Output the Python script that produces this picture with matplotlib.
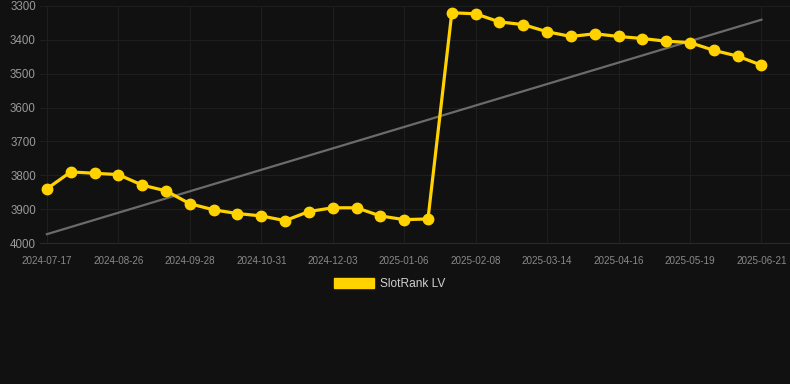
import numpy as np
import matplotlib
matplotlib.use("Agg")
import matplotlib.pyplot as plt
from matplotlib.patches import Patch

plt.rcParams['font.family'] = ['Liberation Sans', 'DejaVu Sans']

tick_labels = ["2024-07-17", "2024-08-26", "2024-09-28", "2024-10-31", "2024-12-03",
               "2025-01-06", "2025-02-08", "2025-03-14", "2025-04-16", "2025-05-19",
               "2025-06-21"]
ranks = [3840, 3790, 3794, 3798, 3829, 3846, 3884, 3902, 3913, 3920, 3934, 3907,
         3896, 3896, 3920, 3931, 3929, 3320, 3323, 3347, 3355, 3376, 3390, 3382,
         3390, 3396, 3404, 3408, 3431, 3448, 3475]
series_name = "SlotRank LV"
y_ticks = [3300, 3400, 3500, 3600, 3700, 3800, 3900, 4000]

BG = "#111111"
GRID = "#1e1e1e"
YELLOW = "#FFD200"

fig = plt.figure(figsize=(7.9, 3.84), dpi=100, facecolor=BG)
W, H = 790, 384
ax = fig.add_axes([40 / W, 1 - 243 / H, 750 / W, 237 / H], facecolor=BG)

x = np.arange(len(ranks))
coef = np.polyfit(x, ranks, 1)
ax.plot(x, np.polyval(coef, x), color="#6b6b6b", lw=1.6, zorder=2)
ax.plot(x, ranks, color=YELLOW, lw=2.3, marker="o", ms=7.5, mec=YELLOW, mfc=YELLOW, zorder=3)

ax.set_xlim(-0.29, 31.2)
ax.set_ylim(4000, 3300)
ax.set_yticks(y_ticks)
ax.set_xticks(x[::3])
ax.set_xticklabels(tick_labels)
ax.grid(True, color=GRID, lw=0.8)
ax.set_axisbelow(True)
for s in ax.spines.values():
    s.set_visible(False)
ax.spines["bottom"].set_visible(True)
ax.spines["bottom"].set_color("#2a2a2a")
ax.spines["bottom"].set_linewidth(0.8)
ax.tick_params(axis="y", length=0, pad=3, labelsize=8.3, labelcolor="#9a9a9a")
ax.tick_params(axis="x", length=0, pad=9, labelsize=7.1, labelcolor="#8a8a8a")

fig.legend(handles=[Patch(facecolor=YELLOW, edgecolor=YELLOW)], labels=[series_name],
           loc="center", bbox_to_anchor=(390 / W, 1 - 284 / H), frameon=False,
           fontsize=8.6, labelcolor="#d0d0d0", handlelength=3.3, handleheight=1.0,
           handletextpad=0.55)

fig.savefig("out.png", dpi=100, facecolor=BG)
